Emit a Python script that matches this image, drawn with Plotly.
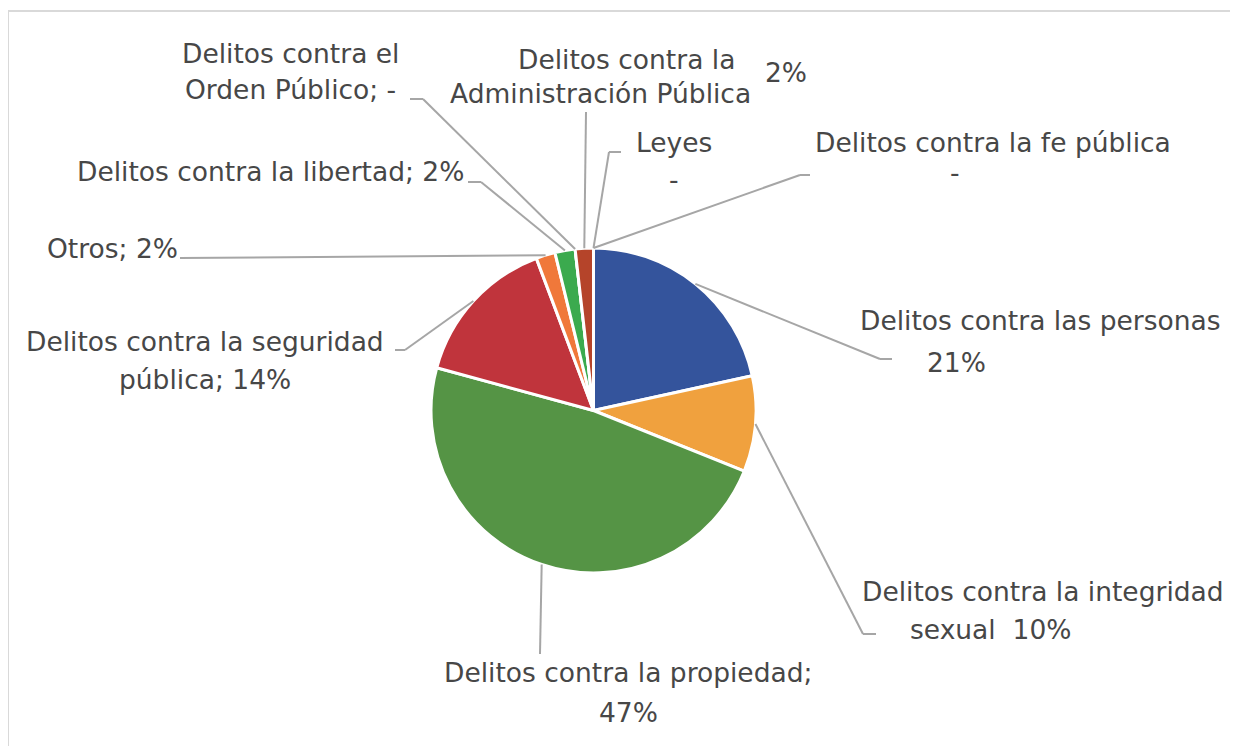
import math
import plotly.graph_objects as go

# ---------------- data ----------------
categories = [
    "Delitos contra las personas",
    "Delitos contra la integridad sexual",
    "Delitos contra la propiedad",
    "Delitos contra la seguridad pública",
    "Otros",
    "Delitos contra la libertad",
    "Delitos contra el Orden Público",
    "Delitos contra la Administración Pública",
    "Leyes",
    "Delitos contra la fe pública",
]
values = [21.5, 9.5, 48.0, 15.0, 1.9, 2.0, 0.0, 1.8, 0.0, 0.0]
slice_colors = ["#34549C", "#F0A13E", "#559445", "#C0343C", "#F0783A",
                "#3BAA4E", "#7F7F7F", "#B5442A", "#999999", "#777777"]
# label text lines, one list per category
label_texts = [
    ["Delitos contra las personas", "21%"],
    ["Delitos contra la integridad", "sexual  10%"],
    ["Delitos contra la propiedad;", "47%"],
    ["Delitos contra la seguridad", "pública; 14%"],
    ["Otros; 2%"],
    ["Delitos contra la libertad; 2%"],
    ["Delitos contra el", "Orden Público; -"],
    ["Delitos contra la", "Administración Pública", "2%"],
    ["Leyes", "-"],
    ["Delitos contra la fe pública", "-"],
]

# ---------------- layout constants (pixels, screen coords) ----------------
W, H = 1238, 746
OX, OY = 8, 8          # page body margin offset
CX, CY, R = 593.5, 410.5, 162.5
# text line centres for each label
text_pos = [
    [(1040, 321), (956, 362)],
    [(1043, 591), (990, 629)],
    [(628, 672), (628, 712)],
    [(205, 341), (205, 379)],
    [(113, 248)],
    [(270, 171)],
    [(290, 53), (290, 90)],
    [(626, 59), (600, 94), (786, 73)],
    [(674, 142), (674, 180)],
    [(993, 142), (955, 172)],
]
# leader line: elbow point and end point (None elbow = straight)
leader = [
    ((880, 359), (892, 359)),
    ((863, 634), (876, 634)),
    (None, (540, 654)),
    ((405, 350), (395, 350)),
    (None, (180, 258)),
    ((481, 182), (468, 182)),
    ((423, 99), (410, 99)),
    (None, (586, 112)),
    ((609, 152), (621, 152)),
    ((800, 175), (810, 175)),
]

TEXT_COLOR = "#474747"
LINE_COLOR = "#A6A6A6"
FONT = "DejaVu Sans"
FSIZE = 26.5


def px(x, y):
    return (x - OX) / W, 1 - (y - OY) / H


fig = go.Figure()
dx0, dy1 = px(CX - R, CY - R)
dx1, dy0 = px(CX + R, CY + R)
fig.add_trace(go.Pie(
    labels=categories,
    values=values,
    sort=False,
    direction="clockwise",
    rotation=0,
    textinfo="none",
    hoverinfo="label+percent",
    marker=dict(colors=slice_colors, line=dict(color="white", width=3)),
    domain=dict(x=[dx0, dx1], y=[dy0, dy1]),
    showlegend=False,
))

shapes = []
annotations = []
total = sum(values)
cum = 0.0
for i, v in enumerate(values):
    phi = 2 * math.pi * (cum + v / 2) / total
    cum += v
    sx = CX + R * math.sin(phi)
    sy = CY - R * math.cos(phi)
    elbow, end = leader[i]
    pts = [(sx, sy)] + ([elbow] if elbow else []) + [end]
    for (x0, y0), (x1, y1) in zip(pts[:-1], pts[1:]):
        a0, b0 = px(x0, y0)
        a1, b1 = px(x1, y1)
        shapes.append(dict(type="line", xref="paper", yref="paper",
                           x0=a0, y0=b0, x1=a1, y1=b1,
                           line=dict(color=LINE_COLOR, width=2)))
    for txt, (tx, ty) in zip(label_texts[i], text_pos[i]):
        ax_, ay_ = px(tx, ty)
        annotations.append(dict(xref="paper", yref="paper", x=ax_, y=ay_,
                                text=txt, showarrow=False,
                                xanchor="center", yanchor="middle",
                                font=dict(family=FONT, size=FSIZE, color=TEXT_COLOR)))

# outer frame (top and left visible)
for (x0, y0, x1, y1) in [(8, 11, W + 20, 11), (8, 11, 8, H + 20)]:
    a0, b0 = px(x0, y0)
    a1, b1 = px(x1, y1)
    shapes.append(dict(type="line", xref="paper", yref="paper",
                       x0=a0, y0=b0, x1=a1, y1=b1,
                       line=dict(color="#D9D9D9", width=2)))

fig.update_layout(
    width=W, height=H,
    margin=dict(l=0, r=0, t=0, b=0),
    paper_bgcolor="white",
    plot_bgcolor="white",
    shapes=shapes,
    annotations=annotations,
    font=dict(family=FONT, color=TEXT_COLOR),
)

fig.write_html("out.html")
